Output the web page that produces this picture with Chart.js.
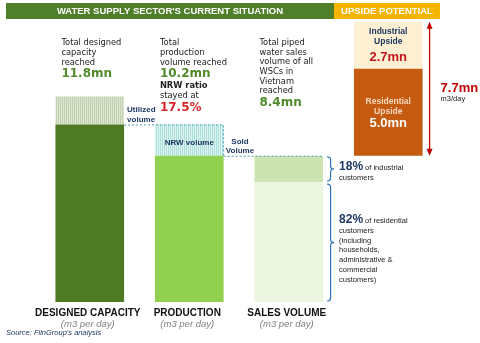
<!DOCTYPE html>
<html>
<head>
<meta charset="utf-8">
<script src="https://cdn.jsdelivr.net/npm/chart.js@4"></script>
<style>
  body { margin: 0; background: #fff; }
  #wrap { width: 480px; height: 343px; }
</style>
</head>
<body>
<div id="wrap"><canvas id="chart" width="480" height="343"></canvas></div>
<script>
// volumes in mn m3 per day
const categories = ["DESIGNED CAPACITY", "PRODUCTION", "SALES VOLUME", ""];
const volumes = [11.8, 10.2, 8.4];     // designed capacity, production, sales
const salesSplit = [18, 82];           // % industrial, % residential
const upside = [2.7, 5.0];             // industrial upside, residential upside
const nrwRatio = 17.5;

const capacity = volumes[0], produced = volumes[1], sold = volumes[2];
const resSales = sold * salesSplit[1] / 100;

const lowerData = [[0, produced], [0, sold], [0, resSales], [sold, sold + upside[1]]];
const upperData = [[produced, capacity], [sold, produced], [resSales, sold], [sold + upside[1], sold + upside[1] + upside[0]]];

function pattern(bg, fg, kind) {
    const c = document.createElement("canvas");
    c.width = 4; c.height = 4;
    const g = c.getContext("2d");
    g.fillStyle = bg;
    g.fillRect(0, 0, 4, 4);
    g.fillStyle = fg;
    if (kind === "lines") {
        g.fillRect(0, 0, 1, 4);
        g.fillRect(2, 0, 1, 4);
    } else {
        g.fillRect(0, 0, 1, 1);
        g.fillRect(2, 2, 1, 1);
    }
    return g.createPattern(c, "repeat");
}

const ctx0 = document.getElementById("chart").getContext("2d");
const lowerColors = ["#4e7a23", "#92d050", "#ebf5df", "#c55a11"];
const upperColors = [
    pattern("#dde6d2", "#c2d0b0", "lines"),
    pattern("#dcf4f2", "#aee0da", "lines"),
    pattern("#cfe6b4", "#b9d994", "dots"),
    "#fdf0d2"
];

const navy = "#1f3864", green = "#4f8a2b", red = "#d9262b";

function text(ctx, str, x, y, font, color, align) {
    ctx.font = font;
    ctx.fillStyle = color;
    ctx.textAlign = align || "left";
    ctx.textBaseline = "middle";
    ctx.fillText(str, x, y);
    return ctx.measureText(str).width;
}

function lines(ctx, arr, x, y, step, font, color, align) {
    arr.forEach((s, i) => text(ctx, s, x, y + i * step, font, color, align));
}

function brace(ctx, x, y1, y2, w) {
    const ym = (y1 + y2) / 2, r = 3;
    ctx.beginPath();
    ctx.moveTo(x, y1);
    ctx.quadraticCurveTo(x + w / 2, y1, x + w / 2, y1 + r);
    ctx.lineTo(x + w / 2, ym - r);
    ctx.quadraticCurveTo(x + w / 2, ym, x + w, ym);
    ctx.quadraticCurveTo(x + w / 2, ym, x + w / 2, ym + r);
    ctx.lineTo(x + w / 2, y2 - r);
    ctx.quadraticCurveTo(x + w / 2, y2, x, y2);
    ctx.strokeStyle = "#2e75b6";
    ctx.lineWidth = 1.2;
    ctx.stroke();
}

const annotate = {
    id: "annotate",
    afterDatasetsDraw(chart) {
        const { ctx, scales: { y } } = chart;
        const bars = chart.getDatasetMeta(0).data;
        const left = i => bars[i].x - bars[i].width / 2;
        const right = i => bars[i].x + bars[i].width / 2;
        const body = '8.3px "DejaVu Sans"';
        const bold = 'bold 8.3px "DejaVu Sans"';
        const big = 'bold 12px "DejaVu Sans"';
        const small = 'bold 8px "Liberation Sans"';
        const note = '7.5px "Liberation Sans"';

        ctx.save();

        // header bands
        ctx.fillStyle = "#4f7f2a";
        ctx.fillRect(6, 3, 328, 16);
        ctx.fillStyle = "#f4b400";
        ctx.fillRect(334, 3, 106, 16);
        text(ctx, "WATER SUPPLY SECTOR'S CURRENT SITUATION", 170, 11.5, 'bold 9.5px "Liberation Sans"', "#fff", "center");
        text(ctx, "UPSIDE POTENTIAL", 387, 11.5, 'bold 9.5px "Liberation Sans"', "#fff", "center");

        // column notes
        const x0 = left(0) + 6, x1 = left(1) + 5, x2 = left(2) + 5;
        lines(ctx, ["Total designed", "capacity", "reached"], x0, 43, 9.7, body, "#222");
        text(ctx, capacity.toFixed(1) + "mn", x0, 74, big, green);
        lines(ctx, ["Total", "production", "volume reached"], x1, 43, 9.7, body, "#222");
        text(ctx, produced.toFixed(1) + "mn", x1, 74, big, green);
        text(ctx, "NRW ratio", x1, 86, bold, "#222");
        text(ctx, "stayed at", x1, 96, body, "#222");
        text(ctx, nrwRatio.toFixed(1) + "%", x1, 108, big, red);
        lines(ctx, ["Total piped", "water sales", "volume of all", "WSCs in", "Vietnam", "reached"], x2, 43, 9.6, body, "#222");
        text(ctx, sold.toFixed(1) + "mn", x2, 103, big, green);

        // dashed connectors
        const yP = y.getPixelForValue(produced), yS = y.getPixelForValue(sold);
        ctx.setLineDash([2, 2]);
        ctx.strokeStyle = "#4e9fb5";
        ctx.lineWidth = 1;
        ctx.beginPath();
        ctx.moveTo(right(0), yP + 0.5); ctx.lineTo(right(1), yP + 0.5); ctx.lineTo(right(1), yS);
        ctx.moveTo(right(1), yS + 0.5); ctx.lineTo(right(2), yS + 0.5);
        ctx.stroke();
        ctx.setLineDash([]);

        lines(ctx, ["Utilized", "volume"], right(0) + 3, 110, 10, small, navy);
        text(ctx, "NRW volume", bars[1].x, (yP + yS) / 2 + 3, small, navy, "center");
        lines(ctx, ["Sold", "Volume"], (right(1) + left(2)) / 2 + 1, 142, 9, small, navy, "center");

        // sales split braces
        const yR = y.getPixelForValue(resSales), y0 = y.getPixelForValue(0);
        const bx = right(2) + 4;
        brace(ctx, bx, yS + 1, yR - 1, 7);
        brace(ctx, bx, yR + 2, y0 - 1, 7);
        const tx = bx + 12;
        let w = text(ctx, salesSplit[0] + "%", tx, 167, 'bold 12px "Liberation Sans"', navy);
        text(ctx, "of industrial", tx + w + 2, 168, note, "#222");
        text(ctx, "customers", tx, 178, note, "#222");
        w = text(ctx, salesSplit[1] + "%", tx, 220, 'bold 12px "Liberation Sans"', navy);
        text(ctx, "of residential", tx + w + 2, 221, note, "#222");
        lines(ctx, ["customers", "(including", "households,", "administrative &", "commercial", "customers)"], tx, 231, 9.7, note, "#222");

        // upside labels
        const ux = bars[3].x;
        lines(ctx, ["Industrial", "Upside"], ux, 32, 10, 'bold 8.5px "Liberation Sans"', navy, "center");
        text(ctx, upside[0].toFixed(1) + "mn", ux, 57, 'bold 13px "Liberation Sans"', "#c0151c", "center");
        lines(ctx, ["Residential", "Upside"], ux, 102, 10, 'bold 8.5px "Liberation Sans"', "#f7d9bd", "center");
        text(ctx, upside[1].toFixed(1) + "mn", ux, 123, 'bold 13px "Liberation Sans"', "#fff", "center");

        // total upside arrow
        const ax = right(3) + 7;
        const yTop = y.getPixelForValue(sold + upside[0] + upside[1]), yBot = y.getPixelForValue(sold);
        ctx.strokeStyle = "#c00000";
        ctx.fillStyle = "#c00000";
        ctx.lineWidth = 1.3;
        ctx.beginPath();
        ctx.moveTo(ax, yTop + 4); ctx.lineTo(ax, yBot - 4);
        ctx.stroke();
        ctx.beginPath();
        ctx.moveTo(ax, yTop); ctx.lineTo(ax - 3, yTop + 7); ctx.lineTo(ax + 3, yTop + 7);
        ctx.moveTo(ax, yBot); ctx.lineTo(ax - 3, yBot - 7); ctx.lineTo(ax + 3, yBot - 7);
        ctx.fill();
        text(ctx, (upside[0] + upside[1]).toFixed(1) + "mn", ax + 11, 88, 'bold 13px "Liberation Sans"', "#c00000");
        text(ctx, "m3/day", ax + 11, 99, note, "#222");

        // category labels
        [0, 1, 2].forEach(i => {
            text(ctx, categories[i], bars[i].x - 2, 313, 'bold 10px "Liberation Sans"', "#111", "center");
            text(ctx, "(m3 per day)", bars[i].x - 2, 324, 'italic 9.5px "Liberation Sans"', "#7f7f7f", "center");
        });
        text(ctx, "Source: FiinGroup's analysis", 6, 333, 'italic 7.5px "Liberation Sans"', navy);

        ctx.restore();
    }
};

new Chart(ctx0, {
    type: "bar",
    data: {
        labels: categories,
        datasets: [
            { label: "lower", data: lowerData, backgroundColor: lowerColors, borderWidth: 0, barPercentage: 0.69, categoryPercentage: 1 },
            { label: "upper", data: upperData, backgroundColor: upperColors, borderWidth: 0, barPercentage: 0.69, categoryPercentage: 1 }
        ]
    },
    options: {
        responsive: false,
        animation: false,
        layout: { padding: { top: 20, bottom: 41, left: 40, right: 42 } },
        plugins: { legend: { display: false }, tooltip: { enabled: false } },
        scales: {
            x: { stacked: true, display: false },
            y: { min: 0, max: 16.2, display: false }
        }
    },
    plugins: [annotate]
});
</script>
</body>
</html>
